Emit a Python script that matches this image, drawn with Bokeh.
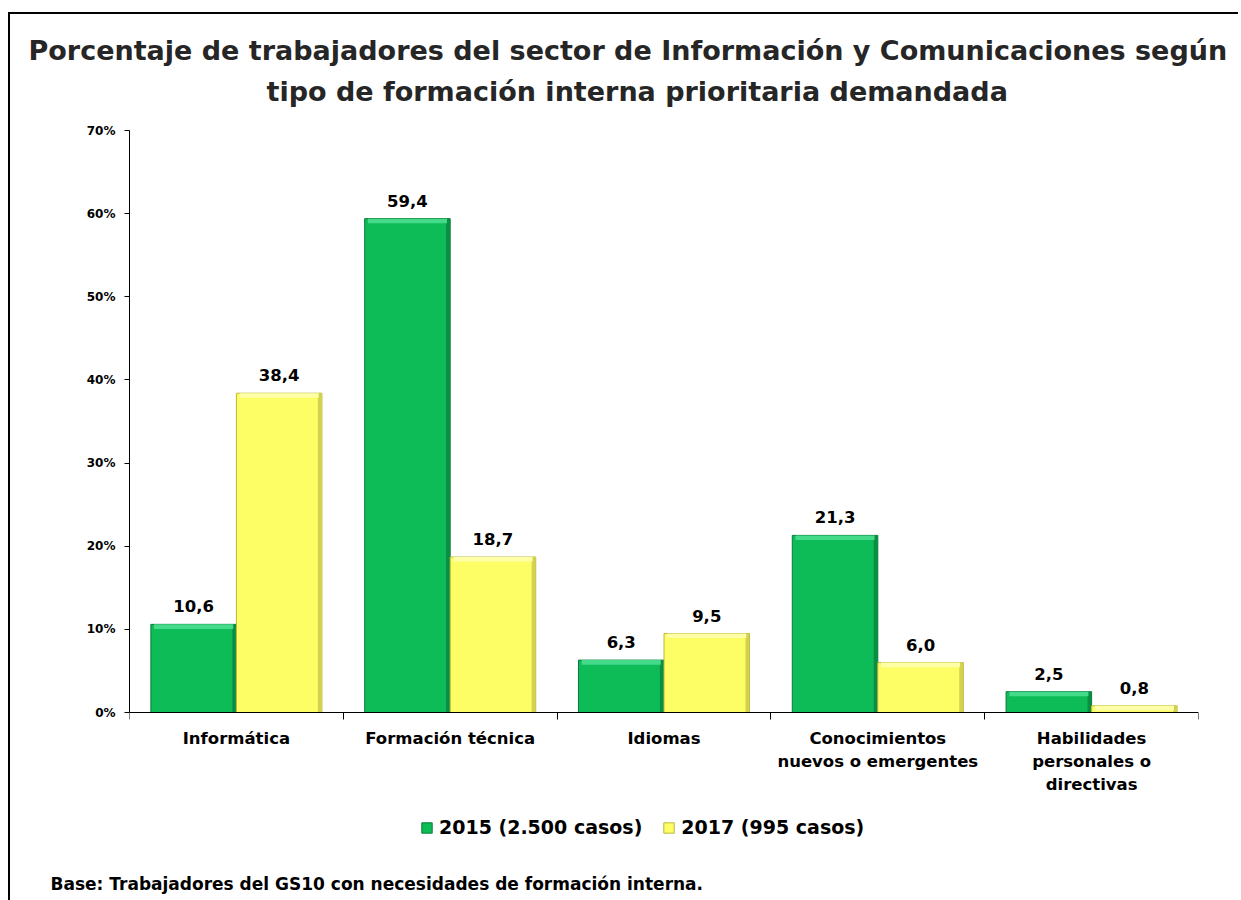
from bokeh.plotting import figure
from bokeh.models import (ColumnDataSource, FixedTicker, Range1d, LabelSet, Title,
                          Legend, LegendItem)
from bokeh.core.properties import value
from bokeh.embed import file_html
from bokeh.resources import INLINE
import numpy as np

# ---------------- data ----------------
categories = ["Informática", "Formación técnica", "Idiomas",
              "Conocimientos\nnuevos o emergentes",
              "Habilidades\npersonales o\ndirectivas"]
v2015 = [10.6, 59.4, 6.3, 21.3, 2.5]
v2017 = [38.4, 18.7, 9.5, 6.0, 0.8]
series_names = ["2015 (2.500 casos)", "2017 (995 casos)"]
y_ticks = [0, 10, 20, 30, 40, 50, 60, 70]
y_tick_labels = ["0%", "10%", "20%", "30%", "40%", "50%", "60%", "70%"]
title_lines = ["Porcentaje de trabajadores del sector de Información y Comunicaciones según",
               "tipo de formación interna prioritaria demandada"]
footnote = "Base: Trabajadores del GS10 con necesidades de formación interna."

FONT = "DejaVu Sans"
GREEN, GREEN_EDGE, GREEN_HI, GREEN_SH = "#0DBB57", "#077A36", "#45D98A", "#0A8E43"
YELLOW, YELLOW_EDGE, YELLOW_HI, YELLOW_SH = "#FDFD66", "#B8B83C", "#FFFFA8", "#D2D24E"

# layout (page pixels): value axis 0..70 spans y 712..130; frame extends down to 871
Y_TOP_PX, Y_ZERO_PX, FRAME_BOTTOM_PX = 130, 712, 871
YMAX = 70
y_min = -YMAX * (FRAME_BOTTOM_PX - Y_ZERO_PX) / (Y_ZERO_PX - Y_TOP_PX)

n = len(categories)
idx = np.arange(n)

def fmt(v):
    return f"{v:.1f}".replace(".", ",")

def bar_source(xs, vals):
    return ColumnDataSource(dict(
        x=xs, top=vals, hi=[max(v - 0.55, 0) for v in vals],
        sx=xs + 0.19, txt=[fmt(v) for v in vals]))

src15 = bar_source(idx + 0.3, v2015)
src17 = bar_source(idx + 0.7, v2017)

# one row per text line of each category label, lines centred individually
cx, cy, ctxt, coff = [], [], [], []
for i, lab in enumerate(categories):
    for j, line in enumerate(lab.split("\n")):
        cx.append(i + 0.5)
        cy.append(0.0)
        ctxt.append(line)
        coff.append(-16 - 23 * j)
src_cat = ColumnDataSource(dict(x=cx, y=cy, txt=ctxt, off=coff))

p = figure(frame_width=1069, frame_height=FRAME_BOTTOM_PX - Y_TOP_PX,
           output_backend="svg", toolbar_location=None,
           x_range=Range1d(0, n), y_range=Range1d(y_min, YMAX),
           min_border_left=119, min_border_top=116, min_border_right=40,
           min_border_bottom=29)
p.styles = {"border-top": "2px solid #000", "border-left": "2px solid #000",
            "margin-top": "12px", "margin-left": "8px"}
p.outline_line_color = None
p.grid.grid_line_color = None
p.background_fill_color = "white"
p.border_fill_color = "white"

renderers = []
for s, fc, ec, hc, sc in ((src15, GREEN, GREEN_EDGE, GREEN_HI, GREEN_SH),
                          (src17, YELLOW, YELLOW_EDGE, YELLOW_HI, YELLOW_SH)):
    r = p.vbar(x="x", top="top", width=0.4, source=s, fill_color=fc,
               line_color=ec, line_width=1)
    renderers.append(r)
    p.vbar(x="sx", top="top", width=0.018, source=s, fill_color=sc, line_color=None)
    p.vbar(x="x", bottom="hi", top="top", width=0.37, source=s, fill_color=hc,
           line_color=None)
    p.add_layout(LabelSet(x="x", y="top", text="txt", source=s, y_offset=12,
                          text_align="center", text_baseline="bottom",
                          text_font=value(FONT), text_font_style="bold",
                          text_font_size="16.5px", text_color="black"))
r15, r17 = renderers

# category labels under the zero line
p.add_layout(LabelSet(x="x", y="y", text="txt", source=src_cat, y_offset="off",
                      text_align="center", text_baseline="top",
                      text_font=value(FONT), text_font_style="bold",
                      text_font_size="16.5px", text_color="black"))

# y axis
ya = p.yaxis[0]
ya.ticker = FixedTicker(ticks=y_ticks)
ya.bounds = (0, YMAX)
ya.major_label_overrides = {t: l for t, l in zip(y_ticks, y_tick_labels)}
ya.major_tick_out = 5
ya.major_tick_in = 0
ya.minor_tick_out = 0
ya.minor_tick_in = 0
ya.major_label_standoff = 9
ya.major_label_text_font = FONT
ya.major_label_text_font_style = "bold"
ya.major_label_text_font_size = "12px"
ya.major_label_text_color = "black"
ya.axis_line_color = "black"
ya.major_tick_line_color = "black"

# x axis drawn on the zero line, ticks between categories
xa = p.xaxis[0]
xa.fixed_location = 0
xa.ticker = FixedTicker(ticks=[], minor_ticks=[float(i) for i in range(n + 1)])
xa.major_tick_out = 0
xa.major_tick_in = 0
xa.minor_tick_out = 7
xa.minor_tick_in = 0
xa.minor_tick_line_color = "black"
xa.axis_line_color = "black"
xa.major_label_standoff = 0

# title (first added sits closest to the frame)
p.add_layout(Title(text=title_lines[1], align="left", offset=137, standoff=48,
                   text_font=FONT, text_font_style="bold", text_font_size="27px",
                   text_color="#262626"), "above")
p.add_layout(Title(text=title_lines[0], align="left", offset=-101, standoff=-33,
                   text_font=FONT, text_font_style="bold", text_font_size="27px",
                   text_color="#262626"), "above")

legend = Legend(items=[LegendItem(label=series_names[0], renderers=[r15]),
                       LegendItem(label=series_names[1], renderers=[r17])],
                location=(291, FRAME_BOTTOM_PX - 838), orientation="horizontal",
                glyph_width=13, glyph_height=13, label_standoff=6, spacing=20,
                padding=0, margin=0, label_height=20,
                label_text_font=FONT, label_text_font_style="bold",
                label_text_font_size="19px", label_text_color="black",
                border_line_color=None, background_fill_alpha=0)
p.add_layout(legend, "center")

p.add_layout(Title(text=footnote, align="left", offset=-79, standoff=0,
                   text_font=FONT, text_font_style="bold", text_font_size="17px",
                   text_color="black"), "below")

open("out.html", "w").write(file_html(p, INLINE))
